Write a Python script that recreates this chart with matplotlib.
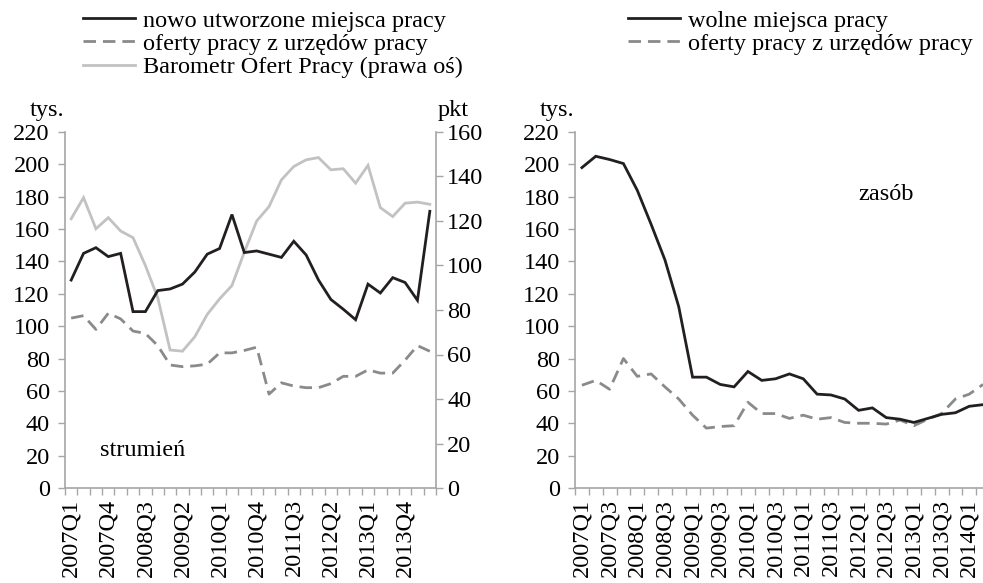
import matplotlib
matplotlib.use('Agg')
import matplotlib.pyplot as plt
from matplotlib.lines import Line2D

plt.rcParams['font.family'] = ['Liberation Serif', 'DejaVu Serif']

quarters = ['2007Q1', '2007Q2', '2007Q3', '2007Q4', '2008Q1', '2008Q2', '2008Q3', '2008Q4',
            '2009Q1', '2009Q2', '2009Q3', '2009Q4', '2010Q1', '2010Q2', '2010Q3', '2010Q4',
            '2011Q1', '2011Q2', '2011Q3', '2011Q4', '2012Q1', '2012Q2', '2012Q3', '2012Q4',
            '2013Q1', '2013Q2', '2013Q3', '2013Q4', '2014Q1', '2014Q2']

# lewy panel - strumien (tys.)
nowe_miejsca = [128.5, 145, 148.5, 143, 145, 109, 109, 122, 123, 126,
                133.5, 144.5, 148, 169, 145.5, 146.5, 144.5, 142.5, 152.5, 144,
                128.5, 116.5, 110.5, 104, 126, 120.5, 130, 127, 116, 171]
oferty_strumien = [105, 106.5, 98, 108, 104.5, 97, 95.5, 88, 76, 75,
                   75.5, 76.5, 83.5, 83.5, 85, 87, 58, 65, 63, 62,
                   62, 64.5, 69, 69, 73, 71, 71, 79, 88, 84.5]
# Barometr Ofert Pracy (pkt, prawa os)
barometr = [121, 130.5, 116.5, 121.5, 115.5, 112.5, 100, 85.5, 62, 61.5,
            68, 78, 85, 91, 106, 120, 126.5, 138.5, 144.5, 147.5,
            148.5, 143, 143.5, 137, 145, 126, 122, 128, 128.5, 127.5]

# prawy panel - zasob (tys.)
wolne_miejsca = [198, 205, 203, 200.5, 184, 163, 141, 112, 68.5, 68.5,
                 64, 62.5, 72, 66.5, 67.5, 70.5, 67.5, 58, 57.5, 55,
                 48, 49.5, 43.5, 42.5, 40.5, 43, 45.5, 46.5, 50.5, 51.5]
oferty_zasob = [63.5, 66.5, 61, 80, 69, 70.5, 62.5, 55, 45, 37,
                38, 38.5, 53, 46, 46, 43, 45, 42.5, 43.5, 40.5,
                40, 40, 39.5, 42, 38.5, 42.5, 46, 55, 58, 64]

BLACK = '#231f20'
DGREY = '#8a8a8a'
LGREY = '#c2c2c2'
AXC = '#a6a6a6'
FS = 17.5
LW = 2.0
DASH = (4.5, 2.5)


def style_axes(ax, step):
    x = list(range(len(quarters)))
    ax.set_xlim(-0.5, len(quarters) - 0.5)
    ax.set_ylim(0, 220)
    ax.set_yticks(range(0, 221, 20))
    ax.set_xticks(x[::step])
    ax.set_xticklabels(quarters[::step], rotation=90, fontsize=FS)
    ax.set_xticks([i - 0.5 for i in x] + [len(x) - 0.5], minor=True)
    ax.tick_params(axis='x', which='major', length=0, pad=8)
    ax.tick_params(axis='x', which='minor', length=5, width=1, color=AXC, direction='out')
    ax.tick_params(axis='y', length=5, width=1, color=AXC, labelsize=FS, pad=6)
    for s in ['top', 'right']:
        ax.spines[s].set_visible(False)
    for s in ['left', 'bottom']:
        ax.spines[s].set_color(AXC)
        ax.spines[s].set_linewidth(1.2)
    return x


fig = plt.figure(figsize=(9.83, 5.83), dpi=100)

# lewy wykres
ax1 = fig.add_axes([65 / 983, 95 / 583, 371 / 983, 356 / 583])
x = style_axes(ax1, 3)
ax2 = ax1.twinx()
ax2.plot(x, barometr, color=LGREY, lw=LW, solid_joinstyle='miter')
ax1.set_zorder(ax2.get_zorder() + 1)
ax1.patch.set_visible(False)
ax1.plot(x, oferty_strumien, color=DGREY, lw=LW, dashes=DASH)
ax1.plot(x, nowe_miejsca, color=BLACK, lw=LW, solid_joinstyle='miter')
ax2.set_ylim(0, 160)
ax2.set_yticks(range(0, 161, 20))
ax2.tick_params(axis='y', length=5, width=1, color=AXC, labelsize=FS, pad=3)
for s in ['top', 'left', 'bottom']:
    ax2.spines[s].set_visible(False)
ax2.spines['right'].set_color(AXC)
ax2.spines['right'].set_linewidth(1.2)

ax1.text(-0.095, 1.045, 'tys.', transform=ax1.transAxes, fontsize=FS)
ax1.text(1.005, 1.045, 'pkt', transform=ax1.transAxes, fontsize=FS)
ax1.text(2.3, 20, 'strumień', fontsize=FS)

h1 = [Line2D([], [], color=BLACK, lw=LW),
      Line2D([], [], color=DGREY, lw=LW, dashes=DASH),
      Line2D([], [], color=LGREY, lw=LW)]
fig.legend(h1, ['nowo utworzone miejsca pracy', 'oferty pracy z urzędów pracy',
                'Barometr Ofert Pracy (prawa oś)'],
           loc='upper left', bbox_to_anchor=(68 / 983, 1 + 5 / 583), frameon=False,
           fontsize=FS, handlelength=2.15, handletextpad=0.33, labelspacing=0.05,
           borderaxespad=0.2)

# prawy wykres
ax3 = fig.add_axes([575 / 983, 95 / 583, 415 / 983, 356 / 583])
x = style_axes(ax3, 2)
ax3.plot(x, oferty_zasob, color=DGREY, lw=LW, dashes=DASH)
ax3.plot(x, wolne_miejsca, color=BLACK, lw=LW, solid_joinstyle='miter')
ax3.text(-0.085, 1.045, 'tys.', transform=ax3.transAxes, fontsize=FS)
ax3.text(20.0, 178, 'zasób', fontsize=FS)

h2 = [Line2D([], [], color=BLACK, lw=LW),
      Line2D([], [], color=DGREY, lw=LW, dashes=DASH)]
fig.legend(h2, ['wolne miejsca pracy', 'oferty pracy z urzędów pracy'],
           loc='upper left', bbox_to_anchor=(613 / 983, 1 + 5 / 583), frameon=False,
           fontsize=FS, handlelength=2.15, handletextpad=0.33, labelspacing=0.05,
           borderaxespad=0.2)

fig.savefig('out.png', dpi=100)
